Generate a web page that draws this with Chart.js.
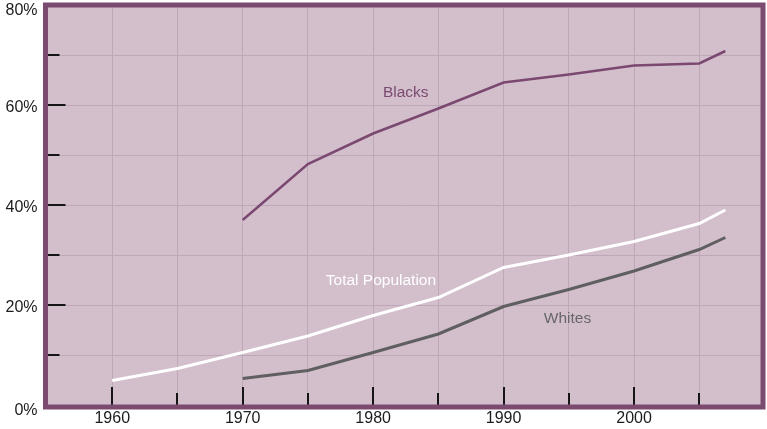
<!DOCTYPE html>
<html>
<head>
<meta charset="utf-8">
<script src="https://cdn.jsdelivr.net/npm/chart.js@4/dist/chart.umd.min.js"></script>
<style>
html,body{margin:0;padding:0;background:#fff;}
#wrap{width:767px;height:429px;}
</style>
</head>
<body>
<div id="wrap"><canvas id="c" width="767" height="429"></canvas></div>
<script>
// ---- data ----
const totalYears = [1960,1965,1970,1975,1980,1985,1990,1995,2000,2005,2007];
const totalValues = [4.9,7.3,10.5,13.8,17.9,21.5,27.5,30.0,32.7,36.3,39.0];
const groupYears = [1970,1975,1980,1985,1990,1995,2000,2005,2007];
const blacksValues = [37.0,48.2,54.3,59.3,64.5,66.1,67.9,68.3,70.8];
const whitesValues = [5.3,6.9,10.5,14.2,19.7,23.1,26.8,31.1,33.5];
const xTickLabels = [1960,1970,1980,1990,2000];
const yTickLabels = [0,20,40,60,80];
const seriesNames = ['Blacks','Total Population','Whites'];
const labelAnchors = [[1982.5,62.5],[1980.6,24.9],[1994.9,17.3]];

const BG = '#d3bfcc', BORDER = '#7b4a71', GRID = '#bea8b8';
const colors = ['#7a4870','#ffffff','#5f5f61'];
const FONT = '"Liberation Sans", Arial, Helvetica, sans-serif';

function pts(xs, ys){ return xs.map((x,i)=>({x:x,y:ys[i]})); }

const deco = {
  id:'deco',
  beforeDraw(chart){
    const {ctx, chartArea:a} = chart;
    ctx.save();
    ctx.fillStyle = BG;
    ctx.fillRect(a.left-1.5, a.top, a.right-a.left, a.bottom-a.top+2);
    ctx.restore();
  },
  beforeDatasetsDraw(chart){
    const {ctx, chartArea:a, scales:{x,y}} = chart;
    ctx.save();
    ctx.strokeStyle = '#151515';
    ctx.lineWidth = 2;
    ctx.beginPath();
    for (let v=1960; v<=2005; v+=5){
      const px = Math.round(x.getPixelForValue(v));
      const len = (v%10===0)?18:12;
      ctx.moveTo(px, a.bottom); ctx.lineTo(px, a.bottom-len);
    }
    for (let v=10; v<=70; v+=10){
      const py = Math.round(y.getPixelForValue(v));
      const len = (v%20===0)?20:14;
      ctx.moveTo(a.left-1.5, py); ctx.lineTo(a.left-1.5+len, py);
    }
    ctx.stroke();
    ctx.restore();
  },
  afterDatasetsDraw(chart){
    const {ctx, chartArea:a, scales:{x,y}} = chart;
    ctx.save();
    ctx.strokeStyle = BORDER;
    ctx.lineWidth = 5;
    ctx.strokeRect(a.left-1.5, a.top, a.right-a.left, a.bottom-a.top+2);
    // series labels
    ctx.font = '15.5px ' + FONT;
    ctx.textAlign = 'center';
    ctx.textBaseline = 'middle';
    const lc = ['#7b4a71','#ffffff','#67676a'];
    seriesNames.forEach((n,i)=>{
      ctx.fillStyle = lc[i];
      ctx.fillText(n, x.getPixelForValue(labelAnchors[i][0]), y.getPixelForValue(labelAnchors[i][1]));
    });
    // axis labels
    ctx.font = '16px ' + FONT;
    ctx.fillStyle = '#1c1c1c';
    ctx.textAlign = 'center';
    xTickLabels.forEach(v=>{
      ctx.fillText(String(v), x.getPixelForValue(v), a.bottom+14);
    });
    ctx.textAlign = 'right';
    yTickLabels.forEach(v=>{
      let py = y.getPixelForValue(v)+3;
      if (v===0) py += 3;
      py = Math.max(py, 11);
      ctx.fillText(v+'%', a.left-9.5, py);
    });
    ctx.restore();
  }
};

new Chart(document.getElementById('c'), {
  type:'line',
  data:{
    datasets:[
      {label:seriesNames[0], data:pts(groupYears, blacksValues), borderColor:colors[0], borderWidth:2.5},
      {label:seriesNames[1], data:pts(totalYears, totalValues), borderColor:colors[1], borderWidth:3},
      {label:seriesNames[2], data:pts(groupYears, whitesValues), borderColor:colors[2], borderWidth:3}
    ]
  },
  options:{
    responsive:false,
    animation:false,
    devicePixelRatio:1,
    layout:{padding:{top:5,right:2.5,left:0,bottom:0}},
    elements:{point:{radius:0}, line:{tension:0, borderCapStyle:'butt'}},
    plugins:{legend:{display:false}, tooltip:{enabled:false}},
    scales:{
      x:{type:'linear', min:1955, max:2010,
         ticks:{stepSize:5, display:false},
         grid:{color:GRID, lineWidth:1, drawTicks:false},
         border:{display:false},
         afterFit(s){ s.height = 24; }},
      y:{min:0, max:80,
         ticks:{stepSize:10, display:false},
         grid:{color:GRID, lineWidth:1, drawTicks:false},
         border:{display:false},
         afterFit(s){ s.width = 47; }}
    }
  },
  plugins:[deco]
});
</script>
</body>
</html>
